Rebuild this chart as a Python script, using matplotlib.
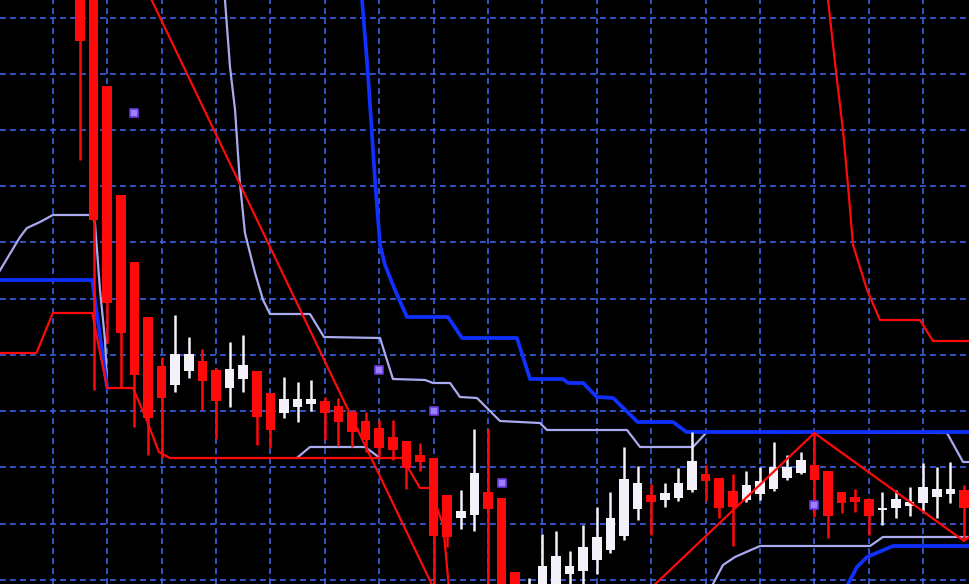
import numpy as np
import matplotlib
matplotlib.use("Agg")
import matplotlib.pyplot as plt

# price levels are read off the screen, so the y axis is inverted (bigger = lower on chart)
# candles: wick top, open, close, wick bottom  (red when close is below open)
hi = [-80, -121, 86, 195, 262, 317, 357, 315, 337, 349, 368, 342, 335, 371, 393, 377, 382, 380,
      397, 398, 410, 412, 420, 420, 441, 443, 458, 495, 490, 429, 429, 498, 572, 578, 534, 531,
      551, 525, 507, 492, 447, 466, 484, 483, 468, 432, 465, 478, 474, 471, 467, 442, 455, 452,
      433, 471, 492, 489, 499, 492, 490, 487, 463, 467, 462, 485]
op = [-60, -100, 86, 195, 262, 317, 366, 385, 371, 361, 370, 388, 379, 371, 393, 413, 407, 404,
      401, 406, 412, 421, 428, 437, 441, 455, 458, 495, 518, 515, 492, 498, 572, 640, 620, 610,
      574, 571, 560, 550, 536, 509, 495, 500, 498, 490, 474, 478, 491, 500, 494, 489, 478, 473,
      465, 471, 492, 497, 499, 510, 508, 506, 503, 497, 494, 490]
cl = [41, 220, 303, 333, 375, 418, 398, 354, 354, 381, 401, 369, 365, 417, 430, 399, 399, 399,
      413, 422, 432, 440, 448, 450, 468, 462, 536, 537, 511, 473, 509, 640, 640, 590, 566, 556,
      566, 547, 537, 518, 479, 483, 502, 493, 483, 461, 481, 508, 507, 485, 481, 467, 467, 460,
      480, 516, 503, 502, 516, 508, 499, 502, 487, 489, 489, 508]
lo = [160, 390, 343, 388, 427, 455, 458, 392, 378, 410, 439, 407, 392, 445, 448, 418, 422, 411,
      440, 446, 447, 452, 456, 460, 489, 471, 620, 547, 529, 531, 620, 730, 700, 650, 650, 640,
      590, 590, 574, 553, 540, 520, 535, 507, 501, 492, 501, 518, 546, 502, 500, 491, 480, 474,
      517, 538, 513, 512, 535, 525, 518, 516, 511, 518, 503, 540]

# indicator lines (x in candle index)
tenkan_x = [-6, -3.2, -2, 0.9, 1.5, 2, 3.9, 4.9, 5.8, 6.6, 23.7, 25, 25.7, 26.7, 27.1, 27.3]
tenkan_y = [353, 353, 313, 313, 355, 388, 388, 420, 452, 458, 458, 488, 488, 525, 584, 620]

tenkan2_x = [54.8, 55.0, 55.66, 56.1, 56.5, 56.84, 57.87, 58.82, 61.76, 62.72, 66]
tenkan2_y = [-20, 0, 80, 130, 190, 245, 290, 320, 320, 341, 341]

kijun_x = [-6, 0.9, 1.0, 2.0]
kijun_y = [280, 280, 290, 388]

kijun2_x = [20.6, 20.74, 21.18, 21.69, 22.06, 22.43, 23.16, 24.04, 27.06, 28.09, 32.13, 33.09,
            35.5, 35.9, 37.0, 38.0, 39.2, 41.0, 43.6, 44.6, 66]
kijun2_y = [-20, 0, 75, 180, 245, 265, 290, 317, 317, 338, 338, 379,
            379, 383, 383, 397, 398, 422, 422, 432, 432]

kijun3_x = [56.2, 56.47, 57.13, 57.87, 59.78, 66]
kijun3_y = [600, 584, 567, 557, 546, 546]

span_a_x = [-6, -4.41, -3.9, -2.94, -1.99, 0.88, 1.1, 1.47, 1.84, 2.0]
span_a_y = [273, 237, 228, 222, 215, 215, 223, 290, 340, 388]

span_b_x = [10.5, 10.66, 11.03, 11.4, 11.76, 12.13, 12.87, 13.46, 13.97, 16.91, 17.94, 22.06,
            23.01, 25.37, 25.96, 27.21, 27.94, 29.19, 30.88, 33.82, 34.34, 40.22, 41.18, 45.07,
            46.1, 50.59, 63.75, 64.93, 66]
span_b_y = [-20, 0, 67, 110, 183, 233, 273, 300, 314, 314, 337, 338,
            379, 380, 383, 383, 397, 398, 421, 423, 430, 430, 447, 447,
            432, 432, 433, 462, 462]

span_c_x = [16.03, 16.91, 20.96, 22.06]
span_c_y = [457, 447, 447, 458]

span_d_x = [46.2, 46.54, 47.28, 48.16, 50.0, 58.09, 59.04, 66]
span_d_y = [600, 584, 565, 557, 546, 546, 537, 537]

zigzag_x = [1, 31, 54, 65, 66]
zigzag_y = [-121, 730, 433, 541, 530]

mark_x = [4, 22, 26, 31, 54]
mark_y = [113, 370, 411, 483, 505]

grid_y = [18, 74, 130, 186, 242, 299, 355, 411, 467, 524, 580]

RED = "#ff0a0a"
WHITE = "#f3f0fa"
BLUE = "#1030ff"
LAV = "#aaaaf0"

fig = plt.figure(figsize=(9.7, 5.84), dpi=100, facecolor="black")
ax = fig.add_axes([0, 0, 1, 1])
ax.set_facecolor("black")

ax.set_xticks(np.arange(-6, 66, 4))
ax.set_yticks(grid_y)
ax.grid(True, color="#3d62e6", linestyle=(0, (3.5, 2.5)), linewidth=1.2)
ax.set_axisbelow(True)
ax.tick_params(length=0, labelleft=False, labelbottom=False)
for s in ax.spines.values():
    s.set_visible(False)

ax.plot(span_a_x, span_a_y, color=LAV, lw=1.6, zorder=2)
ax.plot(span_b_x, span_b_y, color=LAV, lw=1.6, zorder=2)
ax.plot(span_c_x, span_c_y, color=LAV, lw=1.6, zorder=2)
ax.plot(span_d_x, span_d_y, color=LAV, lw=1.6, zorder=2)
ax.plot(kijun_x, kijun_y, color=BLUE, lw=2.7, zorder=3)
ax.plot(kijun2_x, kijun2_y, color=BLUE, lw=2.7, zorder=3)
ax.plot(kijun3_x, kijun3_y, color=BLUE, lw=2.7, zorder=3)
ax.plot(tenkan_x, tenkan_y, color=RED, lw=1.6, zorder=3)
ax.plot(tenkan2_x, tenkan2_y, color=RED, lw=1.6, zorder=3)

idx = np.arange(len(op))
op_a = np.array(op, dtype=float)
cl_a = np.array(cl, dtype=float)
cols = np.where(cl_a > op_a, RED, WHITE)
ax.vlines(idx, hi, lo, colors=cols, lw=1.8, zorder=4)
ax.bar(idx, np.maximum(np.abs(cl_a - op_a), 2), bottom=np.minimum(op_a, cl_a),
       width=0.72, color=cols, linewidth=0, zorder=5)

ax.plot(zigzag_x, zigzag_y, color=RED, lw=1.6, zorder=6)
ax.scatter(mark_x, mark_y, marker="s", s=28, color="#9a80ff", edgecolors="#6a3ae0",
           linewidths=1.2, zorder=7)

ax.set_xlim(-80 / 13.6, 890 / 13.6)
ax.set_ylim(584, 0)

fig.savefig("out.png", dpi=100, facecolor="black")
